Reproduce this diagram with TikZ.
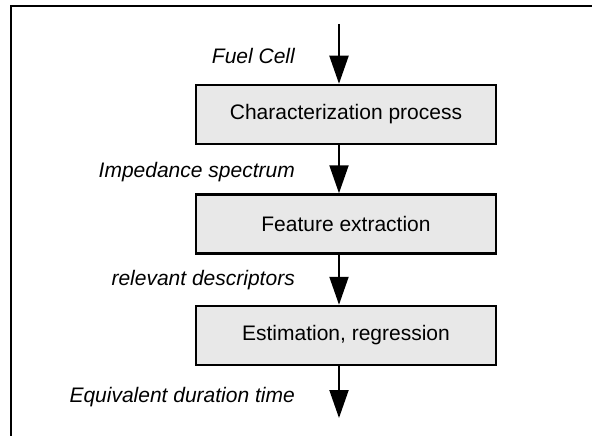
\documentclass[tikz,border=0pt]{standalone}
\usepackage{fontspec}
\setmainfont{Liberation Sans}
\usepackage{tikz}
\usetikzlibrary{positioning,arrows.meta}

\tikzset{
    stagebox/.style={draw=black, line width=2.5pt, fill=gray!18, minimum width=300pt, minimum height=59pt, inner sep=0pt},
    flow/.style={line width=2pt, -{Triangle[length=28pt, width=19pt]}},
    flowlabel/.style={anchor=east, inner sep=0pt, font=\fontsize{21}{25}\selectfont\itshape}
}

\begin{document}
\begin{tikzpicture}[x=1pt, y=-1pt, node distance=48pt, font=\fontsize{21}{25}\selectfont]
        \useasboundingbox (0,0) rectangle (592,436);

        % Frame (only top and left edges are visible)
        \draw[line width=2pt] (11,436) -- (11,6) -- (592,6);

        % Processing stages
        \node[stagebox] (charact) at (346,114.5) {Characterization process};
        \node[stagebox, below=of charact] (feature) {Feature extraction};
        \node[stagebox, below=50pt of feature] (estim) {Estimation, regression};

        % Free ends of the flow
        \coordinate (cellin) at (339,24);
        \coordinate (timeout) at (339,418);

        % Flow arrows
        \draw[flow] (cellin) -- (cellin |- charact.north);
        \draw[flow] (charact.south -| cellin) -- (feature.north -| cellin);
        \draw[flow] (feature.south -| cellin) -- (estim.north -| cellin);
        \draw[flow] (estim.south -| cellin) -- (timeout);

        % Labels of the data passed along
        \node[flowlabel] (lblcell) at (295,56) {Fuel Cell};
        \node[flowlabel] (lblspec) at (295,172) {Impedance spectrum};
        \node[flowlabel] (lbldesc) at (295,280) {relevant descriptors};
        \node[flowlabel] (lbltime) at (295,397) {Equivalent duration time};
    \end{tikzpicture}
\end{document}
